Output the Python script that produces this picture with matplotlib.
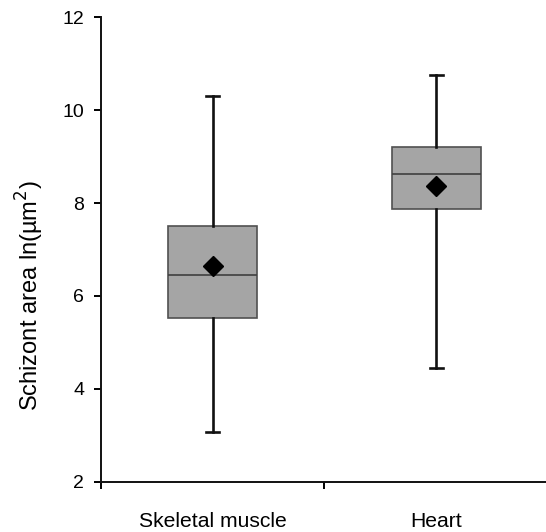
import matplotlib
matplotlib.use("Agg")
import matplotlib.pyplot as plt

# box statistics
tissues = ["Skeletal muscle", "Heart"]
whis_lo = [3.06, 4.45]
q1 = [5.53, 7.87]
median = [6.46, 8.62]
q3 = [7.51, 9.21]
whis_hi = [10.31, 10.75]
mean = [6.65, 8.36]
yticks = [2, 4, 6, 8, 10, 12]

plt.rcParams['font.family'] = ['Liberation Sans', 'DejaVu Sans']

fig = plt.figure(figsize=(5.46, 5.32), dpi=100)
ax = fig.add_axes([0.1844, 0.0945, 0.8156, 0.873])

stats = []
for i in range(len(tissues)):
    stats.append({'label': tissues[i], 'whislo': whis_lo[i], 'q1': q1[i],
                  'med': median[i], 'q3': q3[i], 'whishi': whis_hi[i],
                  'mean': mean[i]})

ax.bxp(stats, positions=[0, 1], widths=0.40, showmeans=True, showfliers=False,
       patch_artist=True, capwidths=0.055,
       boxprops=dict(facecolor='#a5a5a5', edgecolor='#505050', linewidth=1.2),
       medianprops=dict(color='#404040', linewidth=1.2),
       whiskerprops=dict(color='#111111', linewidth=1.9),
       capprops=dict(color='#111111', linewidth=1.9),
       meanprops=dict(marker='D', markerfacecolor='black', markeredgecolor='black',
                      markersize=10.5))

ax.set_xlim(-0.5, 1.49)
ax.set_ylim(2, 12)
ax.set_yticks(yticks)
ax.tick_params(axis='y', direction='out', length=5, width=1.4, labelsize=14, pad=7)

ax.set_xticks([0, 1])
ax.set_xticklabels(tissues)
ax.set_xticks([-0.5, 0.5], minor=True)
ax.tick_params(axis='x', which='major', length=0, labelsize=15.2, pad=22)
ax.tick_params(axis='x', which='minor', direction='out', length=5, width=1.4)

for s in ['top', 'right']:
    ax.spines[s].set_visible(False)
for s in ['left', 'bottom']:
    ax.spines[s].set_linewidth(1.4)
    ax.spines[s].set_color('#111111')

ax.set_ylabel('Schizont area ln(µm$^2$)', fontsize=17)
ax.yaxis.set_label_coords(-0.123, 0.40)

fig.savefig("out.png", dpi=100)
